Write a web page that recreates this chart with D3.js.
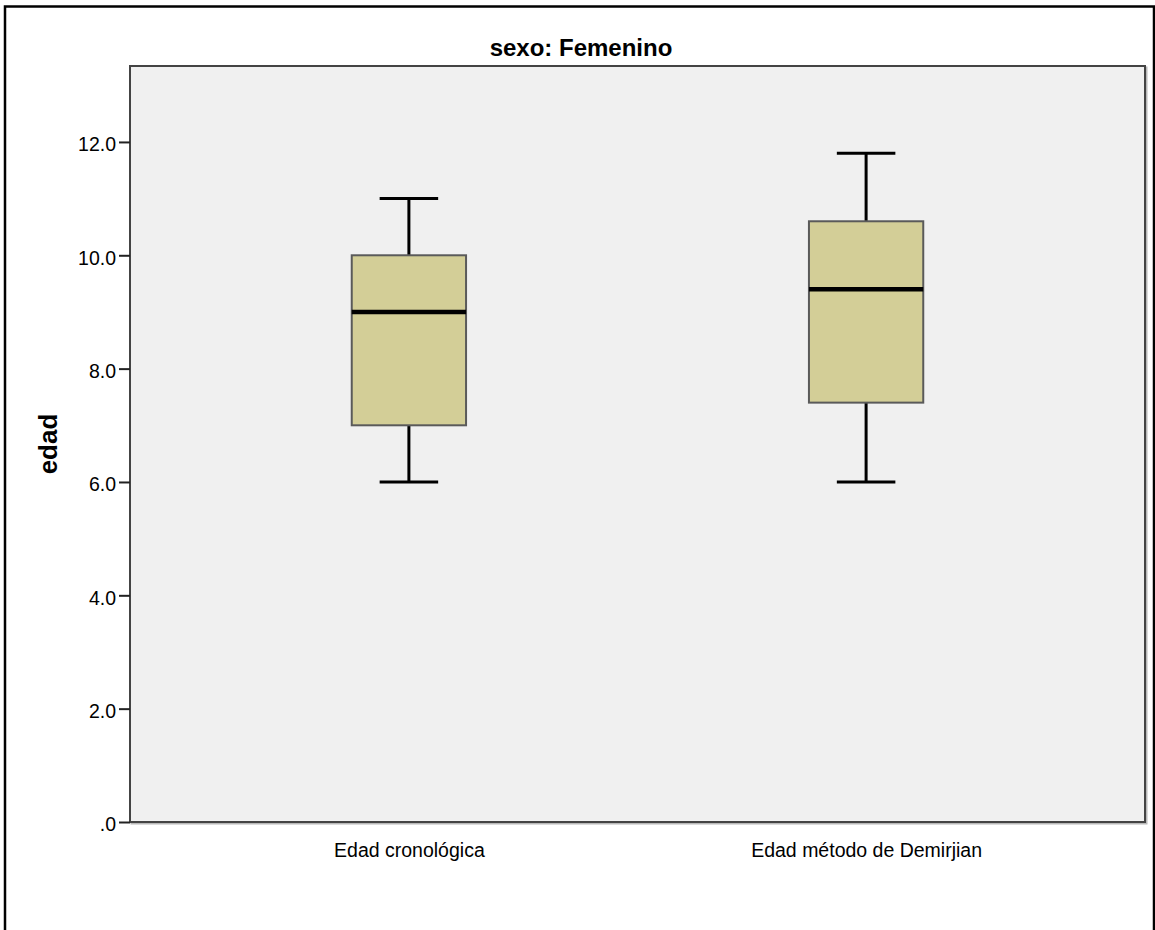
<!DOCTYPE html>
<html>
<head>
<meta charset="utf-8">
<script src="https://cdn.jsdelivr.net/npm/d3@7"></script>
<style>
  html, body { margin: 0; padding: 0; background: #ffffff; }
  svg { display: block; }
  text { font-family: Arial, "Liberation Sans", sans-serif; fill: #000; }
</style>
</head>
<body>
<svg id="chart" width="1155" height="930"></svg>
<script>
// Box-plot summary for each variable (female group)
const categories = ["Edad cronológica", "Edad método de Demirjian"];
const mins    = [6.0, 6.0];
const q1s     = [7.0, 7.4];
const medians = [9.0, 9.4];
const q3s     = [10.0, 10.6];
const maxs    = [11.0, 11.8];
const yTicks  = [0, 2, 4, 6, 8, 10, 12];
const titleText = "sexo: Femenino";
const yLabel = "edad";

const svg = d3.select("#chart");

// frame around the whole output
svg.append("path")
  .attr("d", "M5,930 V6.5 H1154 V930")
  .attr("fill", "none")
  .attr("stroke", "#000")
  .attr("stroke-width", 2.5);

const plot = { left: 130, right: 1145, top: 66, bottom: 822 };

const y = d3.scaleLinear().domain([0, 13.34]).range([plot.bottom, plot.top]);
const x = d3.scalePoint().domain(categories).range([plot.left, plot.right]).padding(0.61);
const step = x.step();
const boxW = step * 0.25;
const capW = step * 0.128;

// shadow of the plot frame
svg.append("rect")
  .attr("x", plot.left + 1.5).attr("y", plot.top + 1.5)
  .attr("width", plot.right - plot.left).attr("height", plot.bottom - plot.top)
  .attr("fill", "none").attr("stroke", "#b8b8b8").attr("stroke-width", 2);

// plot background
svg.append("rect")
  .attr("x", plot.left).attr("y", plot.top)
  .attr("width", plot.right - plot.left).attr("height", plot.bottom - plot.top)
  .attr("fill", "#f0f0f0").attr("stroke", "#444").attr("stroke-width", 2);

// y axis
const yAxis = d3.axisLeft(y)
  .tickValues(yTicks)
  .tickSize(11)
  .tickPadding(3)
  .tickFormat(d => d === 0 ? ".0" : d3.format(".1f")(d));

const gy = svg.append("g").attr("transform", `translate(${plot.left},0)`).call(yAxis);
gy.select(".domain").remove();
gy.selectAll(".tick line").attr("stroke", "#222").attr("stroke-width", 2);
gy.selectAll(".tick text")
  .attr("font-size", 19.5)
  .attr("fill", "#222")
  .attr("dy", "0.45em");

// x axis labels
const xAxis = d3.axisBottom(x).tickSize(0).tickPadding(21);
const gx = svg.append("g").attr("transform", `translate(0,${plot.bottom})`).call(xAxis);
gx.select(".domain").remove();
gx.selectAll(".tick text").attr("font-size", 19.5).attr("fill", "#222");

// boxes
const stats = categories.map((c, i) => ({
  cat: c, min: mins[i], q1: q1s[i], med: medians[i], q3: q3s[i], max: maxs[i]
}));

const g = svg.append("g");
stats.forEach(s => {
  const cx = x(s.cat);
  // whiskers
  g.append("line").attr("x1", cx).attr("x2", cx)
    .attr("y1", y(s.max)).attr("y2", y(s.q3))
    .attr("stroke", "#000").attr("stroke-width", 3);
  g.append("line").attr("x1", cx).attr("x2", cx)
    .attr("y1", y(s.q1)).attr("y2", y(s.min))
    .attr("stroke", "#000").attr("stroke-width", 3);
  // caps
  [s.max, s.min].forEach(v => {
    g.append("line")
      .attr("x1", cx - capW / 2).attr("x2", cx + capW / 2)
      .attr("y1", y(v)).attr("y2", y(v))
      .attr("stroke", "#000").attr("stroke-width", 3);
  });
  // box
  g.append("rect")
    .attr("x", cx - boxW / 2).attr("width", boxW)
    .attr("y", y(s.q3)).attr("height", y(s.q1) - y(s.q3))
    .attr("fill", "#d3ce97").attr("stroke", "#5a5a5a").attr("stroke-width", 2);
  // median
  g.append("line")
    .attr("x1", cx - boxW / 2).attr("x2", cx + boxW / 2)
    .attr("y1", y(s.med)).attr("y2", y(s.med))
    .attr("stroke", "#000").attr("stroke-width", 4.5);
});

// title
svg.append("text")
  .attr("x", 581).attr("y", 56)
  .attr("text-anchor", "middle")
  .attr("font-size", 24)
  .attr("font-weight", "bold")
  .text(titleText);

// y axis label
svg.append("text")
  .attr("transform", `translate(57,${(plot.top + plot.bottom) / 2}) rotate(-90)`)
  .attr("text-anchor", "middle")
  .attr("font-size", 26)
  .attr("font-weight", "bold")
  .text(yLabel);
</script>
</body>
</html>
